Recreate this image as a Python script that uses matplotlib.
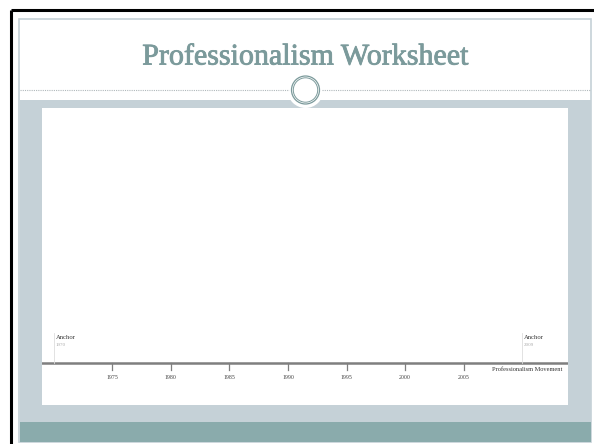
import numpy as np
import pandas as pd
import matplotlib
matplotlib.use('Agg')
import matplotlib.pyplot as plt
import matplotlib.patheffects as pe
from matplotlib.patches import Rectangle, Circle

#--------------
title = 'Professionalism Worksheet'
tick_years = [1975, 1980, 1985, 1990, 1995, 2000, 2005]
anchor_labels = ['Anchor', 'Anchor']
anchor_dates = ['1970-01-01', '2009-12-31']
timeline_name = 'Professionalism Movement'
year_range = (1969.0, 2013.9)
#--------------

band = '#c5d1d7'
teal = '#8aabac'
title_col = '#7b9a9b'

def decimal_year(s):
    d = pd.Timestamp(s)
    return d.year + (d.dayofyear - 1) / (366 if d.is_leap_year else 365)

fig = plt.figure(figsize=(5.94, 4.44), dpi=100)
W, H = 594, 444

# full-figure axes in pixel units for the slide frame
bg = fig.add_axes([0, 0, 1, 1])
bg.set_xlim(0, W)
bg.set_ylim(H, 0)
bg.axis('off')

# black outer frame (top + left)
bg.plot([11, W], [10, 10], color='black', lw=2.2, solid_capstyle='butt')
bg.plot([11, 11], [10, H], color='black', lw=2.2, solid_capstyle='butt')

# slide
bg.add_patch(Rectangle((19, 19), 572, 423, fc='white', ec=band, lw=1.2))
bg.add_patch(Rectangle((19.5, 100), 571, 322, fc=band, ec='none'))
bg.add_patch(Rectangle((19.5, 422), 571, 20, fc=teal, ec='none'))
bg.add_patch(Rectangle((42, 108), 526, 297, fc='white', ec='none'))

# title and divider
bg.text(305.5, 64.5, title, ha='center', va='baseline', color=title_col,
        fontsize=21.6, family='Liberation Serif',
        path_effects=[pe.withStroke(linewidth=0.6, foreground=title_col)])
bg.plot([20, 289], [90, 90], color='#b0b8bb', lw=0.8, ls=(0, (1, 1)))
bg.plot([322, 590], [90, 90], color='#b0b8bb', lw=0.8, ls=(0, (1, 1)))
bg.add_patch(Circle((305.5, 90), 18, fc='white', ec='none'))
bg.add_patch(Circle((305.5, 90), 14, fc='white', ec='#7b9a9b', lw=0.9))
bg.add_patch(Circle((305.5, 90), 12.2, fc='white', ec='#7b9a9b', lw=0.7))

# timeline axes over the white content area
ax = fig.add_axes([42 / W, 1 - 405 / H, 526 / W, 297 / H])
ax.set_xlim(*year_range)
ax.set_ylim(0, 297)
ax.axis('off')
y0 = 405 - 363   # timeline height in axes pixels
ax.axhline(y0, color='#7f7f7f', lw=1.8)
for yr in tick_years:
    ax.plot([yr, yr], [y0, y0 - 7], color='#7f7f7f', lw=0.9)
    ax.text(yr, y0 - 14, str(yr), ha='center', va='center', fontsize=4.2,
            family='Liberation Serif', color='#444444')
for lab, ds in zip(anchor_labels, anchor_dates):
    x = decimal_year(ds)
    ax.plot([x, x], [y0, y0 + 30], color='#dddddd', lw=0.6)
    ax.text(x + 0.15, y0 + 25.5, lab, ha='left', va='center', fontsize=4.8,
            family='Liberation Serif', color='#333333')
    ax.text(x + 0.15, y0 + 18.5, str(pd.Timestamp(ds).year), ha='left',
            va='center', fontsize=3.6, family='Liberation Serif', color='#aaaaaa')
ax.text(year_range[1] - 0.5, y0 - 6, timeline_name, ha='right', va='center',
        fontsize=4.6, family='Liberation Serif', color='#333333')

fig.savefig('out.png', dpi=100)
